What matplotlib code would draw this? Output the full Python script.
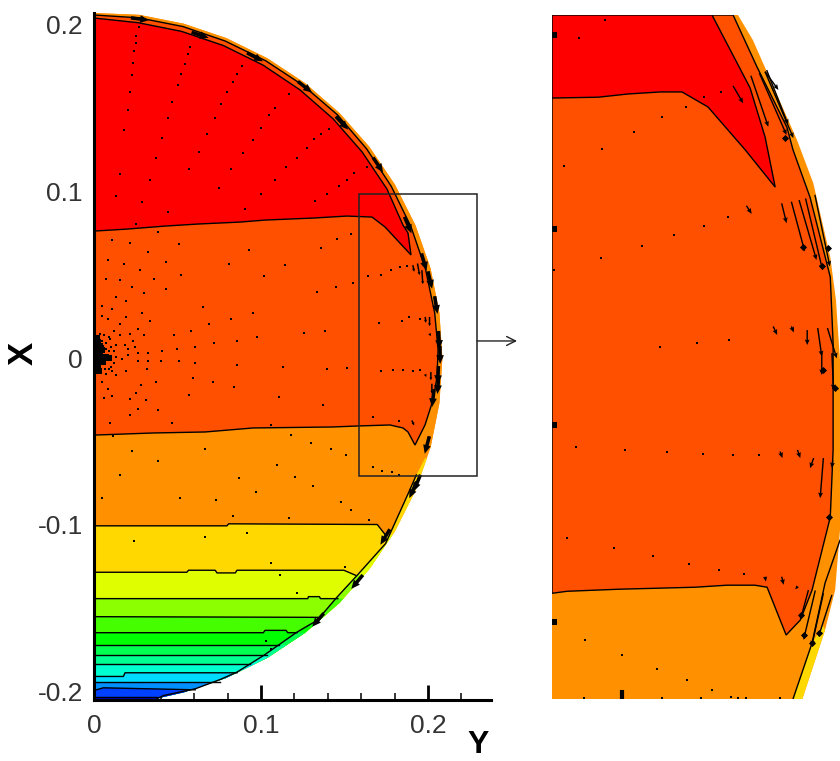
import numpy as np
import matplotlib
matplotlib.use("Agg")
import matplotlib.pyplot as plt
from matplotlib.patches import Polygon, Rectangle

plt.rcParams["font.family"] = ["Liberation Sans", "DejaVu Sans"]

# colours of the contour bands, top to bottom
RED = "#FF0000"
ORANGE_RED = "#FF5000"
band_colors = ["#FF9000", "#FFD800", "#DFFF00", "#8CFF00", "#45FF00", "#00FF00", "#00FF50",
               "#00FF90", "#00FFD0", "#00DCFF", "#0090FF", "#0040FF", "#0000C0"]

# ---- left panel: domain outline (Y, X)
outline_y = [0, .0271, .0537, .0794, .1038, .1265, .1470, .1650, .1802, .1925, .2015, .2068, .2086, .2068, .2015,
             .1925, .1802, .1650, .1470, .1265, .1038, .0794, .0537, .0335, 0]
outline_x = [.2066, .2055, .2002, .1915, .1795, .1645, .1467, .1263, .1038, .0794, .0537, .0271, 0, -.0271, -.0537,
             -.0794, -.1038, -.1263, -.1467, -.1645, -.1795, -.1915, -.2002, -.2048, -.2048]

ring_y = [.1930, .1886, .1746, .1576, .1456, .1336, .1216, .1116, .1016, .0856, .0756, .0606, .0416, .0376]
ring_x = [-.0700, -.0801, -.1111, -.1301, -.1431, -.1571, -.1641, -.1711, -.1781, -.1881, -.1925, -.1981, -.2021, -.2041]

# contour boundaries below the orange band
level_lines = [
    ([0, .0796, .0806, .1696, .1746], [-.1005, -.1005, -.0993, -.0997, -.1061]),
    ([0, .0556, .0566, .0726, .0736, .0846, .0856, .1496, .1566], [-.1283, -.1283, -.1271, -.1271, -.1287, -.1287, -.1271, -.1271, -.1301]),
    ([0, .1280, .1284, .1350, .1356, .1460], [-.1441, -.1441, -.1429, -.1429, -.1441, -.1441]),
    ([0, .1340], [-.1549, -.1553]),
    ([0, .1014, .1024, .1150, .1160, .1216], [-.1645, -.1645, -.1631, -.1631, -.1645, -.1645]),
    ([0, .1110], [-.1717, -.1717]),
    ([0, .1036], [-.1777, -.1777]),
    ([0, .0936], [-.1835, -.1835]),
    ([0, .0176, .0186, .0856], [-.1907, -.1907, -.1885, -.1885]),
    ([0, .0756], [-.1941, -.1941]),
    ([0, .0056, .0606], [-.1991, -.1975, -.1987]),
    ([0, .0376], [-.2031, -.2031]),
]

orange_red_y = [0, .0269, .0532, .0786, .1028, .1253, .1457, .1632, .1780, .1898, .1985, .2040, .2060, .2054, .2030, .1982, .1922, .1880, .1850,
                .1772, .1581, .1431, .0952, .0665, .0353, .0018, 0]
orange_red_x = [.2054, .2037, .1985, .1898, .1780, .1632, .1457, .1253, .1028, .0786, .0532, .0269, .0050, -.0114, -.0251, -.0401, -.0521, -.0443, -.0419,
                -.0401, -.0407, -.0413, -.0419, -.0443, -.0449, -.0461, -.0461]
red_y = [0, .0264, .0524, .0775, .1012, .1233, .1432, .1606, .1754, .1850, .1880, .1898, .1743, .1665, .1515, .1311, .1024, .0874, .0617, .0425, .0198, 0]
red_x = [.2036, .2008, .1956, .1871, .1754, .1606, .1432, .1233, .1012, .0796, .0749, .0617, .0784, .0844, .0850, .0838, .0826, .0814, .0802, .0790, .0772, .0760]

# velocity vectors too short to show more than a dot
dot_y = [.0272, .0252, .0252, .0242, .0236, .0230, .0218, .0206, .0182, .0158, .0134,
         .0576, .0560, .0542, .0518, .0500, .0470, .0446, .0410, .0374, .0338, .0290, .0254,
         .0886, .0854, .0830, .0794, .0758, .0722, .0674, .0626, .0566, .0446,
         .1166, .1082, .1046, .0998, .0950, .0890, .0818, .0746,
         .1406, .1360, .1316, .1274, .1214, .1148, .1082, .0998, .0902,
         .1636, .1556, .1514, .1466, .1396, .1324,
         .0110, .0218, .0386, .0506, .0326, .0926, .1142, .1360, .1456, .1540, .0086, .0182, .0278, .0434, .0806, .1016,
         .0074, .0158, .0362, .0518, .0230, .0302, .0434, .1450, .1552, .1336, .0134, .0194, .0050, .0110, .0650, .0290,
         .0950, .0050, .0086, .0194, .0818, .0338, .0158, .0686, .0266, .0122, .0578, .1256, .1384, .0158, .0218, .0302,
         .0476, .0974, .0854, .0236, .0716, .0134, .0186, .0248, .0104, .0602, .0206, .0494, .0410, .0122, .0266, .0326,
         .0206, .0170, .0266, .0326, .0404, .0506, .0602, .0854, .1130, .1396, .1516, .0320, .0194, .0134, .0590, .0710,
         .0050, .0374, .0284, .0836, .0086, .0254, .0566, .0110, .0062, .0218, .0314, .1106, .1372, .0266, .0386, .0218,
         .0098, .0470, .1058, .1178, .0116, .1300, .0662, .0230, .1420, .1510, .0386, .1094, .0158, .0866, .1202,
         .0036, .0062, .0090, .0046, .0070, .0096, .0054, .0070, .0090, .0036, .0066, .0090, .0106, .0074, .0122, .0134, .0102,
         .0048, .0516, .0732, .0968, .1310, .1478, .1538, .0830, .1166, .1646, .0242, .0662, .0914, .1058, .1502, .1112, .1214, .1028, .1058,
         .1639, .1717, .1779, .1833, .1873, .1705, .1847, .1889, .1949, .1717, .1789, .1853, .1909, .1953, .1673, .1827, .1669, .1727, .1783, .1829]
dot_x = [.1984, .1930, .1884, .1838, .1764, .1694, .1592, .1484, .1364, .1100, .0968,
         .1864, .1820, .1760, .1700, .1634, .1532, .1436, .1316, .1196, .1064, .0932, .0800,
         .1748, .1700, .1652, .1592, .1520, .1436, .1340, .1232, .1130, .0872,
         .1580, .1496, .1454, .1376, .1304, .1226, .1130, .1016,
         .1370, .1340, .1310, .1256, .1196, .1142, .1064, .0980, .0890,
         .1142, .1106, .1064, .1028, .0980, .0938,
         .0704, .0688, .0752, .0680, .0632, .0644, .0556, .0656, .0712, .0740, .0584, .0560, .0524, .0572, .0560, .0494,
         .0476, .0470, .0476, .0500, .0428, .0392, .0416, .0428, .0452, .0398, .0368, .0344, .0314, .0296, .0308, .0272,
         .0272, .0254, .0236, .0248, .0236, .0224, .0206, .0206, .0176, .0164, .0164, .0152, .0164, .0140, .0146, .0140,
         .0140, .0126, .0104, .0104, .0092, .0080, .0080, .0068, .0068, .0068, .0056, .0056, .0044, .0044, .0032, .0032,
         .0020, -.0004, -.0016, -.0016, -.0016, -.0016, -.0028, -.0040, -.0052, -.0064, -.0058, -.0064, -.0076, -.0100, -.0118, -.0142,
         -.0142, -.0142, -.0160, -.0172, -.0184, -.0208, -.0220, -.0226, -.0238, -.0244, -.0250, -.0232, -.0280, -.0304, -.0310, -.0340,
         -.0388, -.0388, -.0400, -.0460, -.0470, -.0508, -.0544, -.0556, -.0544, -.0580, -.0616, -.0640, -.0700, -.0718, -.0712,
         .0146, .0140, .0128, .0104, .0092, .0116, .0072, .0056, .0044, -.0044, -.0064, -.0064, -.0076, -.0096, -.0028, .0004, -.0052,
         -.0841, -.0841, -.0853, -.0805, -.0769, -.0865, -.0913, -.0949, -.0961, -.0973, -.1093, -.1069, -.1045, -.1225, -.1249, -.1299, -.1405, -.1693, -.1741,
         .0490, .0500, .0526, .0542, .0550, .0212, .0224, .0246, .0236, -.0076, -.0070, -.0070, -.0076, -.0070, -.0354, -.0376, -.0652, -.0676, -.0682, -.0700]

# crowded vectors at the axis, where they merge into a blob
blob_y = [.0026, .0036, .0050, .0070, .0090, .0026, .0042, .0056, .0022, .0030, .0026, .0015, .0015, .0015, .0020, .0034, .0046]
blob_x = [.0056, .0026, .0006, .0006, 0, -.0004, -.0014, -.0024, -.0064, -.0076, .0096, .0080, .0020, -.0040, .0120, .0070, .0050]

# clumps of long vectors along the wall
wall_y = [.0275, .0635, .0964, .1263, .1485, .1701, .1880, .1976, .2012, .2048, .2066, .2072, .2060, .2060, .2030, .1994, .1934, .1910, .1743, .1575, .1341]
wall_x = [.2030, .1934, .1802, .1623, .1407, .1156, .0796, .0575, .0467, .0317, .0108, .0018, -.0102, -.0162, -.0240, -.0521, -.0749, -.0790, -.1072, -.1341, -.1569]
wall_u = [.0070, .0066, .0062, .0055, .0048, .0039, .0027, .0020, .0016, .0011, .0004, .0001, -.0003, -.0005, -.0008, -.0018, -.0027, -.0029, -.0037, -.0045, -.0045]
wall_v = [-.0009, -.0022, -.0033, -.0043, -.0051, -.0058, -.0064, -.0067, -.0068, -.0069, -.0070, -.0070, -.0070, -.0070, -.0070, -.0068, -.0065, -.0064, -.0060, -.0054, -.0052]

short_y0 = [.1909, .1937, .1963, .1983, .2009, .2009, .1983, .2017, .2023, .1903]
short_x0 = [.0556, .0566, .0526, .0246, .0246, .0146, -.0098, -.0084, -.0154, -.0374]
short_y1 = [.1917, .1949, .1969, .1987, .2009, .2017, .1989, .2017, .2023, .1917]
short_x1 = [.0516, .0496, .0442, .0210, .0190, .0130, -.0114, -.0134, -.0214, -.0404]

# zoom box on the left panel
box_y = [.1587, .2293]
box_x = [-.0707, .0982]

# ---- right panel: enlarged view
zoom_outline_y = [.2046, .2083, .2192, .2232, .2274, .2288, .2298, .2300, .2298, .2286, .2261, .2205]
zoom_outline_x = [.0982, .0920, .0673, .0567, .0384, .0278, .0130, -.0043, -.0290, -.0438, -.0537, -.0707]

zoom_orange_red_y = [.2034, .2093, .2167, .2182, .2224, .2274, .2281, .2281, .2281, .2274, .2229, .2200, .2165, .2118, .2088,
                     .2019, .1940, .1750, .1624, .1587]
zoom_orange_red_x = [.0982, .0854, .0705, .0649, .0532, .0335, .0172, .0073, -.0092, -.0258, -.0438, -.0512, -.0549, -.0431, -.0426,
                     -.0426, -.0431, -.0436, -.0441, -.0446]
zoom_red_y = [.1587, .1701, .1775, .1854, .1908, .1972, .2064, .2138, .2113, .2076, .1982]
zoom_red_x = [.0777, .0779, .0787, .0792, .0792, .0755, .0649, .0557, .0681, .0802, .0982]
zoom_yellow_y = [.2182, .2229, .2256, .2261, .2205]
zoom_yellow_x = [-.0707, -.0569, -.0525, -.0537, -.0707]
zoom_wall_y = [.2182, .2229, .2261, .2298]
zoom_wall_x = [-.0707, -.0569, -.0421, -.0315]

zoom_dot_y = [.1719, .1654, .1963, .2005, .1919, .1858, .1790, .1711, .1617, .2022, .1963, .1889, .1808, .1709, .1593, .1854, .1946, .2025,
              .1647, .1766, .1872, .1961, .2033, .2097, .1624, .1739, .1837, .1926, .2000, .2062,
              .1669, .1761, .1846, .1921, .1981, .1665, .1858, .1956, .2028, .2047, .2065, .2149]
zoom_dot_x = [.0970, .0925, .0780, .0793, .0756, .0729, .0694, .0651, .0609, .0482, .0461, .0438, .0412, .0382, .0353, .0163, .0173, .0180,
              -.0085, -.0092, -.0098, -.0103, -.0105, -.0105, -.0310, -.0335, -.0354, -.0374, -.0389, -.0399,
              -.0562, -.0599, -.0633, -.0661, -.0686, -.0705, -.0705, -.0705, -.0701, -.0705, -.0705, -.0705]

zoom_vec_y0 = [.2034, .2078, .2099, .2113, .2113, .2154, .2178, .2197, .2213, .2236, .2133, .2178, .2217, .2243, .2267, .2067,
               .2150, .2193, .2233, .2257, .2280, .2113, .2154, .2194, .2220, .2237, .2257, .2278, .2253, .2278, .2117]
zoom_vec_x0 = [.0807, .0832, .0838, .0842, .0842, .0517, .0521, .0525, .0529, .0538, .0213, .0213, .0204, .0209, .0209, .0511,
               -.0096, -.0092, -.0112, -.0112, -.0117, -.0405, -.0405, -.0429, -.0438, -.0439, -.0446, -.0450, .0147, .0147, .0846]
zoom_vec_y1 = [.2059, .2121, .2166, .2183, .2146, .2166, .2211, .2240, .2255, .2273, .2143, .2184, .2217, .2253, .2290, .2080,
               .2156, .2200, .2224, .2249, .2278, .2115, .2159, .2187, .2200, .2208, .2228, .2245, .2253, .2282, .2170]
zoom_vec_x1 = [.0764, .0706, .0686, .0678, .0797, .0468, .0398, .0377, .0352, .0361, .0192, .0198, .0167, .0139, .0134, .0491,
               -.0112, -.0112, -.0137, -.0211, -.0137, -.0417, -.0425, -.0436, -.0512, -.0561, -.0577, -.0553, .0093, .0056, .0711]

# arrow heads that run together into black spots
zoom_spot_y = [.2162, .2253, .2269, .2207, .2270, .2286, .2228, .2245, .2208, .2202, .2257]
zoom_spot_x = [.0678, .0361, .0406, .0410, -.0257, .0060, -.0569, -.0545, -.0549, -.0499, .0106]

zoom_mark_y = [.1592, .1592, .1592, .1592]
zoom_mark_x = [.0933, .0453, -.0031, -.0518]


def px_axes(fig, left, top, right, bottom):
    W, H = 840, 761
    return fig.add_axes([left / W, 1 - bottom / H, (right - left) / W, (bottom - top) / H])


def fill_below(ax, y, x, color, clip, z):
    py = list(y) + [.26, .26, 0]
    px = list(x) + [x[-1], -.22, -.22]
    patch = ax.fill(py, px, color=color, lw=0, zorder=z)[0]
    patch.set_clip_path(clip)


fig = plt.figure(figsize=(8.4, 7.61), dpi=100)

# left panel
ax = px_axes(fig, 94, 13, 491, 700)
ax.set_xlim(0, .2377)
ax.set_ylim(-.2048, .2066)

clip_outer = Polygon(np.c_[outline_y, outline_x], transform=ax.transData)
inner_y = outline_y[:15] + ring_y + [0]
inner_x = outline_x[:15] + ring_x + [-.2048]
clip_inner = Polygon(np.c_[inner_y, inner_x], transform=ax.transData)

# thin sliver at the wall takes the next band's colour
fill_below(ax, [0, .26], [.21, .21], band_colors[0], clip_outer, 1)
fill_below(ax, [0, .26], [-.06, -.06], band_colors[1], clip_outer, 1)
for (ly, lx), c in zip(level_lines, band_colors[2:] + band_colors[-1:]):
    fill_below(ax, ly, lx, c, clip_outer, 1)

fill_below(ax, [0, .26], [.21, .21], band_colors[0], clip_inner, 2)
for (ly, lx), c in zip(level_lines, band_colors[1:]):
    fill_below(ax, ly, lx, c, clip_inner, 2)
for ly, lx in level_lines:
    ax.plot(ly, lx, color="k", lw=1.0, zorder=3)
ax.plot(ring_y, ring_x, color="k", lw=1.0, zorder=3)

ax.fill(orange_red_y, orange_red_x, facecolor=ORANGE_RED, edgecolor="k", lw=1.0, zorder=4)
ax.fill(red_y, red_x, facecolor=RED, edgecolor="k", lw=1.0, zorder=5)

ax.scatter(dot_y, dot_x, s=4, marker="s", color="k", lw=0, zorder=6)
ax.scatter(blob_y, blob_x, s=20, marker="s", color="k", lw=0, zorder=6)
ax.quiver(wall_y, wall_x, wall_u, wall_v, angles="xy", scale_units="xy", scale=.65, units="dots",
          width=3.5, headwidth=2.2, headlength=2.5, headaxislength=2.5, pivot="mid", color="k", zorder=7)
short_u = np.array(short_y1) - np.array(short_y0)
short_v = np.array(short_x1) - np.array(short_x0)
ax.quiver(short_y0, short_x0, short_u, short_v, angles="xy", scale_units="xy", scale=1, units="dots",
          width=1.5, headwidth=2, headlength=2, headaxislength=2, color="k", zorder=7)

ax.add_patch(Rectangle((box_y[0], box_x[0]), box_y[1] - box_y[0], box_x[1] - box_x[0], fill=False,
                       ec="#222222", lw=1.1, zorder=8, clip_on=False))
ax.annotate("", xy=(.2533, .0102), xytext=(box_y[1], .0102), annotation_clip=False,
            arrowprops=dict(arrowstyle="->", color="#222222", lw=1.0, mutation_scale=16, shrinkA=0, shrinkB=0))

for side in ("top", "right"):
    ax.spines[side].set_visible(False)
for side in ("left", "bottom"):
    ax.spines[side].set_linewidth(2.2)
    ax.spines[side].set_zorder(9)
ax.set_xticks([0, .1, .2])
ax.set_xticklabels(["0", "0.1", "0.2"])
ax.set_yticks([-.2, -.1, 0, .1, .2])
ax.set_yticklabels(["-0.2", "-0.1", "0", "0.1", "0.2"])
ax.set_xticks([.02, .04, .06, .08, .12, .14, .16, .18, .22], minor=True)
ax.set_yticks([-.18, -.16, -.14, -.12, -.08, -.06, -.04, -.02, .02, .04, .06, .08, .12, .14, .16, .18], minor=True)
ax.tick_params(which="major", direction="in", length=11, width=2.0, labelsize=19, labelcolor="#333333", pad=8, zorder=9)
ax.tick_params(which="minor", direction="in", length=7, width=1.1, zorder=9)
ax.tick_params(axis="x", which="minor", length=5)
ax.tick_params(axis="x", which="major", pad=10)
ax.set_xlabel("Y", fontsize=23, fontweight="bold", va="center")
ax.xaxis.set_label_coords((478 - 94) / 397, -(745 - 700) / 687)
ax.set_ylabel("X", fontsize=25, fontweight="bold", va="center")
ax.yaxis.set_label_coords((23 - 94) / 397, (700 - 353) / 687)

# right panel
ax2 = px_axes(fig, 552, 15, 840, 699)
ax2.set_xlim(.1587, .2298)
ax2.set_ylim(-.0707, .0982)
ax2.axis("off")

ax2.fill([.1587] + zoom_outline_y + [.1587], [.0982] + zoom_outline_x + [-.0707], color=band_colors[0], lw=0, zorder=1)
ax2.fill(zoom_yellow_y, zoom_yellow_x, color=band_colors[1], lw=0, zorder=2)
ax2.plot(zoom_wall_y, zoom_wall_x, color="k", lw=1.0, zorder=2)
ax2.fill(zoom_orange_red_y + [.1587], zoom_orange_red_x + [.0982], facecolor=ORANGE_RED, edgecolor="k", lw=1.0, zorder=3)
ax2.fill(zoom_red_y + [.1587], zoom_red_x + [.0982], facecolor=RED, edgecolor="k", lw=1.0, zorder=4)

ax2.scatter(zoom_dot_y, zoom_dot_x, s=3.5, marker="s", color="k", lw=0, zorder=6)
ax2.scatter(zoom_mark_y, zoom_mark_x, s=14, marker="s", color="k", lw=0, zorder=6)
ax2.scatter(zoom_spot_y, zoom_spot_x, s=13, marker="D", color="k", lw=0, zorder=7)
ax2.plot([.1760, .1760], [-.0707, -.0685], color="k", lw=3, solid_capstyle="butt", zorder=6)
zoom_u = np.array(zoom_vec_y1) - np.array(zoom_vec_y0)
zoom_v = np.array(zoom_vec_x1) - np.array(zoom_vec_x0)
ax2.quiver(zoom_vec_y0, zoom_vec_x0, zoom_u, zoom_v, angles="xy", scale_units="xy", scale=1, units="dots",
           width=1.4, headwidth=3.5, headlength=4, headaxislength=3.5, color="k", zorder=7)

fig.savefig("out.png", dpi=100)
